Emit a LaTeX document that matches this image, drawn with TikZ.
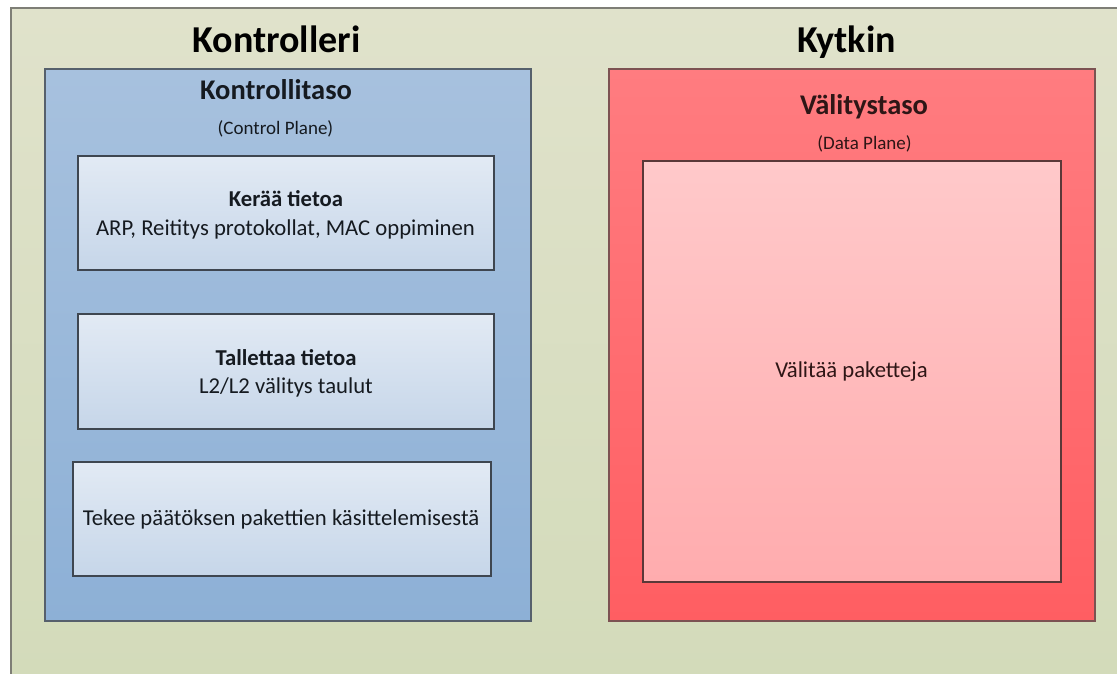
\documentclass[tikz,border=0pt]{standalone}
\usepackage{fontspec}
\setmainfont{Carlito}

\definecolor{bgtop}{HTML}{E0E2CB}
\definecolor{bgbot}{HTML}{D3DBBA}
\definecolor{bgline}{HTML}{7E7E76}
\definecolor{bluetop}{HTML}{A7C1DE}
\definecolor{bluebot}{HTML}{8DB0D6}
\definecolor{blueline}{HTML}{56606C}
\definecolor{celltop}{HTML}{E2EAF4}
\definecolor{cellbot}{HTML}{C6D6E9}
\definecolor{cellline}{HTML}{3E4650}
\definecolor{redtop}{HTML}{FF7C80}
\definecolor{redbot}{HTML}{FF5E62}
\definecolor{redline}{HTML}{7C5252}
\definecolor{pinktop}{HTML}{FFC9CA}
\definecolor{pinkbot}{HTML}{FFACAE}
\definecolor{pinkline}{HTML}{5A3838}
\definecolor{redtext}{HTML}{2E1616}
\definecolor{bluetext}{HTML}{151A20}

\begin{document}
\begin{tikzpicture}[x=1pt,y=-1pt,
  box/.style={anchor=north west, inner sep=0pt, outer sep=0pt, line width=1.2pt},
  backdrop/.style={box, draw=bgline, top color=bgtop, bottom color=bgbot},
  ctrlpanel/.style={box, draw=blueline, top color=bluetop, bottom color=bluebot},
  cell/.style={box, draw=cellline, top color=celltop, bottom color=cellbot},
  swpanel/.style={box, draw=redline, top color=redtop, bottom color=redbot},
  swcell/.style={box, draw=pinkline, top color=pinktop, bottom color=pinkbot},
  lbl/.style={anchor=base, inner sep=0pt},
  title/.style={lbl, font=\bfseries\fontsize{38}{44}\selectfont, text=black},
  heading/.style={lbl, font=\bfseries\fontsize{28.5}{34}\selectfont},
  subhead/.style={lbl, font=\fontsize{19}{23}\selectfont},
  celltitle/.style={lbl, font=\bfseries\fontsize{22.7}{27}\selectfont},
  celltext/.style={lbl, font=\fontsize{22.7}{27}\selectfont}
]
\useasboundingbox (0,0) rectangle (1117,673);
\clip (0,0) rectangle (1117,673);
\fill[white] (0,0) rectangle (1117,673);

% backdrop running off the right and bottom edges
\node[backdrop, minimum width=1112pt, minimum height=670pt] (bg) at (11,8) {};

% column titles
\node[title] (tctrl) at (276.5,52) {Kontrolleri};
\node[title] (tsw) at (846.5,52) {Kytkin};

% control plane
\node[ctrlpanel, minimum width=486pt, minimum height=552pt] (ctrl) at (45,69) {};
\node[heading, text=bluetext] (hctrl) at (276,99) {Kontrollitaso};
\node[subhead, text=bluetext] (sctrl) at (275.5,134) {(Control Plane)};

\node[cell, minimum width=416pt, minimum height=114pt] (c1) at (78,156) {};
\node[celltitle, text=bluetext] (c1a) at (286,206) {Kerää tietoa};
\node[celltext, text=bluetext] (c1b) at (285.5,235) {ARP, Reititys protokollat, MAC oppiminen};

\node[cell, minimum width=416pt, minimum height=115pt] (c2) at (78,314) {};
\node[celltitle, text=bluetext] (c2a) at (286,365) {Tallettaa tietoa};
\node[celltext, text=bluetext] (c2b) at (286,393) {L2/L2 välitys taulut};

\node[cell, minimum width=418pt, minimum height=114pt] (c3) at (73,462) {};
\node[celltext, text=bluetext] (c3a) at (281,525) {Tekee päätöksen pakettien käsittelemisestä};

% data plane
\node[swpanel, minimum width=486pt, minimum height=552pt] (sw) at (609,69) {};
\node[heading, text=redtext] (hsw) at (864,114) {Välitystaso};
\node[subhead, text=redtext] (ssw) at (864.5,149) {(Data Plane)};

\node[swcell, minimum width=418pt, minimum height=421pt] (s1) at (643,161) {};
\node[celltext, text=redtext] (s1a) at (851.5,377) {Välitää paketteja};
\end{tikzpicture}
\end{document}
